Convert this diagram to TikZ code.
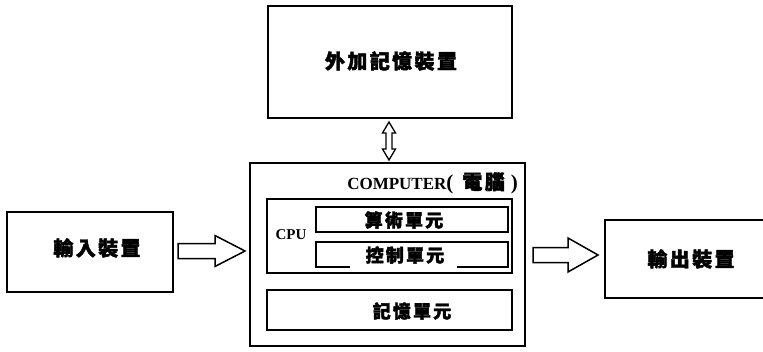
\documentclass[tikz,border=0pt]{standalone}
\usepackage{fontspec}
\setmainfont{Liberation Serif}
\newfontfamily\cjk{Noto Sans CJK TC}[LetterSpace=12, BoldFeatures={FakeBold=2}]
\tikzset{
  box/.style={draw, line width=1.6pt, inner sep=0pt},
  lbl/.style={inner sep=0pt, font=\cjk\bfseries\fontsize{20}{20}\selectfont},
  ulbl/.style={inner sep=0pt, font=\cjk\bfseries\fontsize{18}{18}\selectfont},
  blk/.style={draw, line width=1.5pt, line join=miter},
}
\begin{document}
\begin{tikzpicture}[x=1pt,y=-1pt]
\useasboundingbox (0,0) rectangle (763,351);
\clip (0,0) rectangle (763,351);
% external storage
\node[box, minimum width=244pt, minimum height=112pt] (ext) at (390,62) {};
\node[lbl] (extl) at (391,61) {外加記憶裝置};
% computer
\node[box, minimum width=275pt, minimum height=183pt] (comp) at (387.5,254.5) {};
\node[inner sep=0pt, anchor=east] (compl) at (518,183)
  {\fontsize{17}{17}\selectfont\bfseries COMPUTER{\fontsize{21}{21}\selectfont(}\hspace{9pt}{\cjk\bfseries\fontsize{20}{20}\selectfont 電腦}\hspace{6pt}{\fontsize{21}{21}\selectfont)}};
% cpu
\node[box, minimum width=245pt, minimum height=74pt] (cpu) at (389.5,236) {};
\node[inner sep=0pt, font=\bfseries\fontsize{15}{15}\selectfont] (cpul) at (291,235) {CPU};
\node[box, minimum width=192pt, minimum height=25pt] (alu) at (412,219.5) {};
\node[ulbl] (alul) at (404,220) {算術單元};
% control unit with gap in bottom line
\coordinate (ctl) at (316,242);
\coordinate (ctr) at (508,242);
\coordinate (cbl) at (316,267);
\coordinate (cbr) at (508,267);
\draw[line width=1.6pt] (350,267) -- (cbl) -- (ctl) -- (ctr) -- (cbr) -- (457,267);
\node[ulbl] (ctrl) at (405,255) {控制單元};
% memory unit
\node[box, minimum width=245pt, minimum height=40pt] (mem) at (389.5,310) {};
\node[ulbl] (meml) at (412,311) {記憶單元};
% input
\node[box, minimum width=166pt, minimum height=80pt] (in) at (90,252) {};
\node[lbl] (inl) at (97,248) {輸入裝置};
% output
\node[box, minimum width=180pt, minimum height=78pt, anchor=west] (out) at (604,259) {};
\node[lbl] (outl) at (691,259) {輸出裝置};
% block arrows
\coordinate (a1) at (178,251);
\draw[blk] (a1) ++(0,-7.5) -- ++(37,0) -- ++(0,-8) -- ++(30,15.5) -- ++(-30,15.5) -- ++(0,-8) -- ++(-37,0) -- cycle;
\coordinate (a2) at (533,255);
\draw[blk] (a2) ++(0,-7.5) -- ++(35,0) -- ++(0,-9.5) -- ++(30,17) -- ++(-30,17) -- ++(0,-9.5) -- ++(-35,0) -- cycle;
\coordinate (a3) at (389,122);
\draw[blk, line width=1.3pt] (a3) -- ++(6.5,11) -- ++(-3.5,0) -- ++(0,16) -- ++(3.5,0) -- ++(-6.5,11)
  -- ++(-6.5,-11) -- ++(3.5,0) -- ++(0,-16) -- ++(-3.5,0) -- cycle;
\end{tikzpicture}
\end{document}
